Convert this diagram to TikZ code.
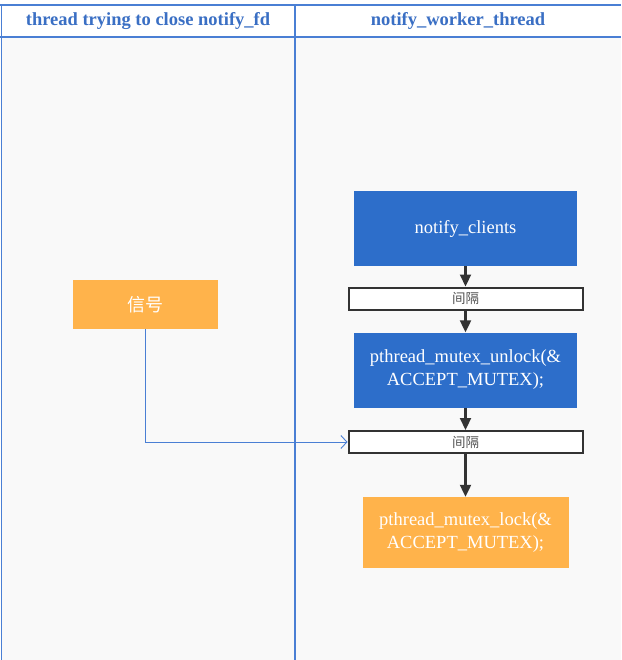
\documentclass[tikz,border=0pt]{standalone}
\usepackage{fontspec}
\setmainfont{Liberation Serif}
\newfontfamily\cjk{Noto Sans CJK SC}
\usetikzlibrary{arrows.meta}
\definecolor{laneblue}{HTML}{4A7FD4}
\definecolor{headblue}{HTML}{3A6FC4}
\definecolor{boxblue}{HTML}{2D6ECA}
\definecolor{boxorange}{HTML}{FFB34B}
\definecolor{bodybg}{HTML}{F9F9F9}
\definecolor{arrowgray}{HTML}{333333}
\tikzset{
  lane/.style={draw=laneblue, line width=1.2pt},
  header/.style={text=headblue, font=\bfseries\fontsize{18.5}{20}\selectfont, anchor=center},
  boxfont/.style={font=\fontsize{18.5}{23}\selectfont},
  bluebox/.style={fill=boxblue, draw=none, text=white, boxfont, align=center, minimum width=223pt, minimum height=75pt, inner sep=0pt},
  orangebox/.style={fill=boxorange, draw=none, text=white, align=center, inner sep=0pt},
  gapbox/.style={fill=white, draw=arrowgray, line width=2pt, text=arrowgray!85, font=\cjk\fontsize{13.5}{15}\selectfont, minimum width=234pt, minimum height=22pt, inner sep=0pt},
  flow/.style={draw=arrowgray, line width=2.2pt, -{Triangle[length=12pt,width=11pt]}},
  signal/.style={draw=laneblue, line width=0.9pt, -{Straight Barb[length=6pt,width=13pt]}}
}
\begin{document}
\begin{tikzpicture}[x=1pt,y=-1pt]
\useasboundingbox (0,0) rectangle (621,660);
\fill[white] (0,0) rectangle (621,660);
\fill[bodybg] (1.5,37) rectangle (621,660);
\draw[lane] (0,5) -- (621,5);
\draw[lane] (0,37) -- (621,37);
\draw[lane] (1.5,5) -- (1.5,660);
\draw[lane] (295,5) -- (295,660);
\node[header] (h1) at (148,21) {thread trying to close notify\_fd};
\node[header] (h2) at (458,21) {notify\_worker\_thread};

\node[bluebox] (nc) at (465.5,228.5) {notify\_clients};
\node[gapbox] (g1) at (465.5,298.5) {间隔};
\node[bluebox] (unl) at (465.5,370) {pthread\_mutex\_unlock(\&\\ACCEPT\_MUTEX);};
\node[gapbox] (g2) at (465.5,442) {间隔};
\node[orangebox, minimum width=206pt, minimum height=71pt, boxfont] (lock) at (465.5,532.5) {pthread\_mutex\_lock(\&\\ACCEPT\_MUTEX);};
\node[orangebox, minimum width=145pt, minimum height=49pt, font=\cjk\fontsize{18}{20}\selectfont] (sig) at (145.5,304.5) {信号};

\draw[flow] (nc.south) -- (g1.north);
\draw[flow] (g1.south) -- (unl.north);
\draw[flow] (unl.south) -- (g2.north);
\draw[flow] (g2.south) -- (lock.north);
\draw[signal] (sig.south) |- (g2.west);
\end{tikzpicture}
\end{document}
